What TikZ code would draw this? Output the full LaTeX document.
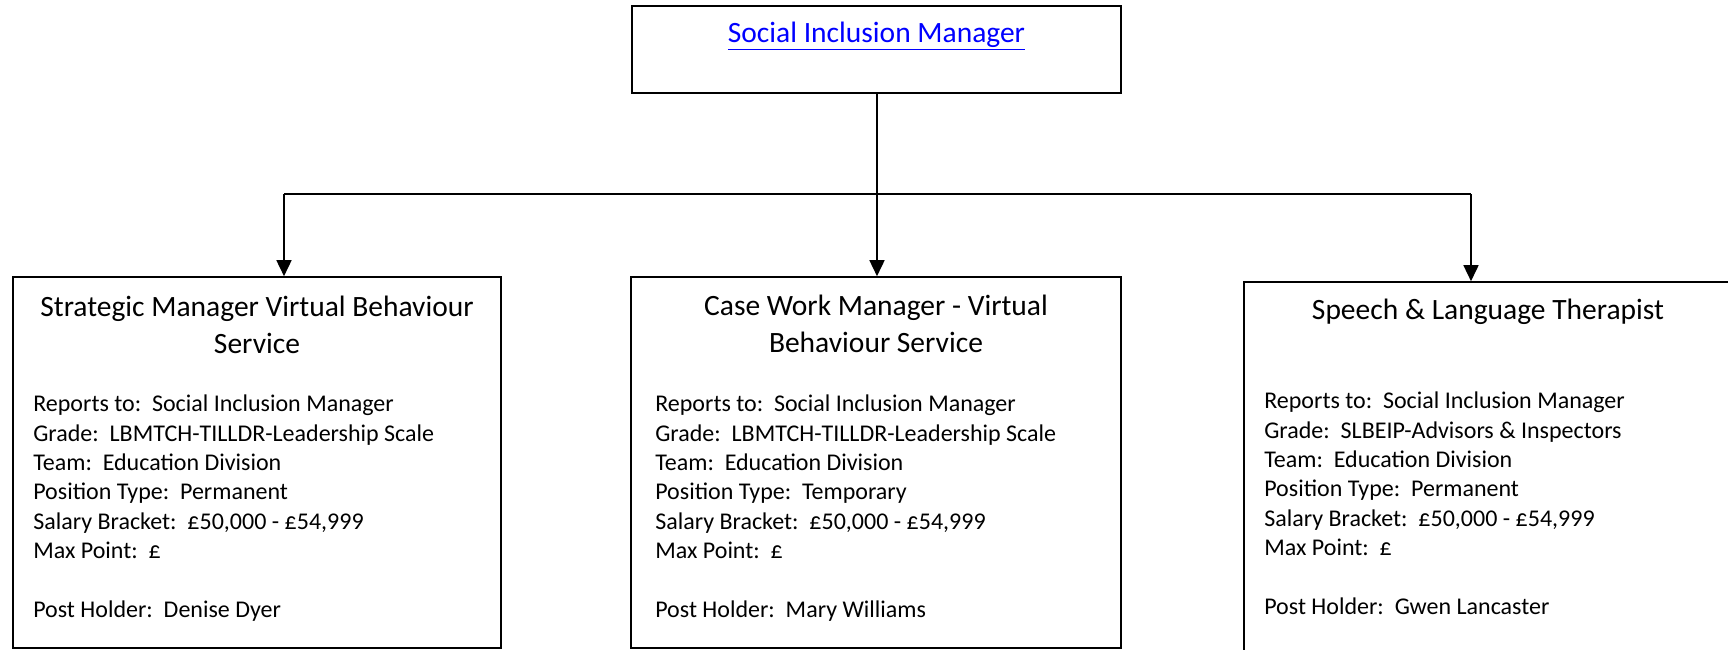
\documentclass[tikz,border=0pt]{standalone}
\usepackage{fontspec}
\setmainfont{Carlito}
\usepackage{xcolor}
\usepackage{tikz}
\usetikzlibrary{arrows.meta}
\usetikzlibrary{positioning}

\definecolor{linkblue}{RGB}{0,0,255}

\begin{document}
\begin{tikzpicture}[x=1pt,y=-1pt,-,semithick]
	\tikzstyle{post}=[draw, line width=1.6pt, rectangle, inner sep=0pt]
	\tikzstyle{title}=[align=center, inner sep=0pt, anchor=base, font=\fontsize{29.5}{37}\selectfont]
	\tikzstyle{info}=[align=left, inner sep=0pt, anchor=base west, font=\fontsize{24}{29.3}\selectfont]
	\tikzstyle{link}=[line width=1.6pt]
	\tikzstyle{down}=[line width=1.6pt, -{Triangle[length=16pt,width=15pt]}]
	\useasboundingbox (0,0) rectangle (1728,650);
	% boxes
	\node[post, minimum width=489pt, minimum height=87pt] (SIM) at (876.5,49.5) {};
	\node[post, minimum width=488pt, minimum height=371pt] (SM) at (257,462.5) {};
	\node[post, minimum width=490pt, minimum height=371pt] (CW) at (876,462.5) {};
	\node[post, minimum width=500pt, minimum height=440pt] (SL) at (1494,502) {};
	% texts (base = last line)
	\node[anchor=base, inner sep=0pt, text=linkblue, font=\fontsize{29.5}{34}\selectfont] (SIMt) at (876.5,43) {\underline{Social Inclusion Manager}};
	\node[title] (SMt) at (257,353) {Strategic Manager Virtual Behaviour\\Service};
	\node[title] (CWt) at (876,352) {Case Work Manager - Virtual\\Behaviour Service};
	\node[title] (SLt) at (1488,319) {Speech \& Language Therapist};
	\node[info] (SMi) at (33,617) {Reports to:\ \ Social Inclusion Manager\\Grade:\ \ LBMTCH-TILLDR-Leadership Scale\\Team:\ \ Education Division\\Position Type:\ \ Permanent\\Salary Bracket:\ \ £50,000 - £54,999\\Max Point:\ \ £\\[29.3pt]Post Holder:\ \ Denise Dyer};
	\node[info] (CWi) at (655,617) {Reports to:\ \ Social Inclusion Manager\\Grade:\ \ LBMTCH-TILLDR-Leadership Scale\\Team:\ \ Education Division\\Position Type:\ \ Temporary\\Salary Bracket:\ \ £50,000 - £54,999\\Max Point:\ \ £\\[29.3pt]Post Holder:\ \ Mary Williams};
	\node[info] (SLi) at (1264,614) {Reports to:\ \ Social Inclusion Manager\\Grade:\ \ SLBEIP-Advisors \& Inspectors\\Team:\ \ Education Division\\Position Type:\ \ Permanent\\Salary Bracket:\ \ £50,000 - £54,999\\Max Point:\ \ £\\[29.3pt]Post Holder:\ \ Gwen Lancaster};
	% connectors
	\coordinate (bus) at (877,194);
	\coordinate (busL) at (284,194);
	\coordinate (busR) at (1471,194);
	\draw[link] (SIM.south -| bus) -- (bus);
	\draw[link] (busL) -- (busR);
	\draw[down] (busL) -- (busL |- SM.north);
	\draw[down] (bus) -- (bus |- CW.north);
	\draw[down] (busR) -- (busR |- SL.north);
\end{tikzpicture}
\end{document}
